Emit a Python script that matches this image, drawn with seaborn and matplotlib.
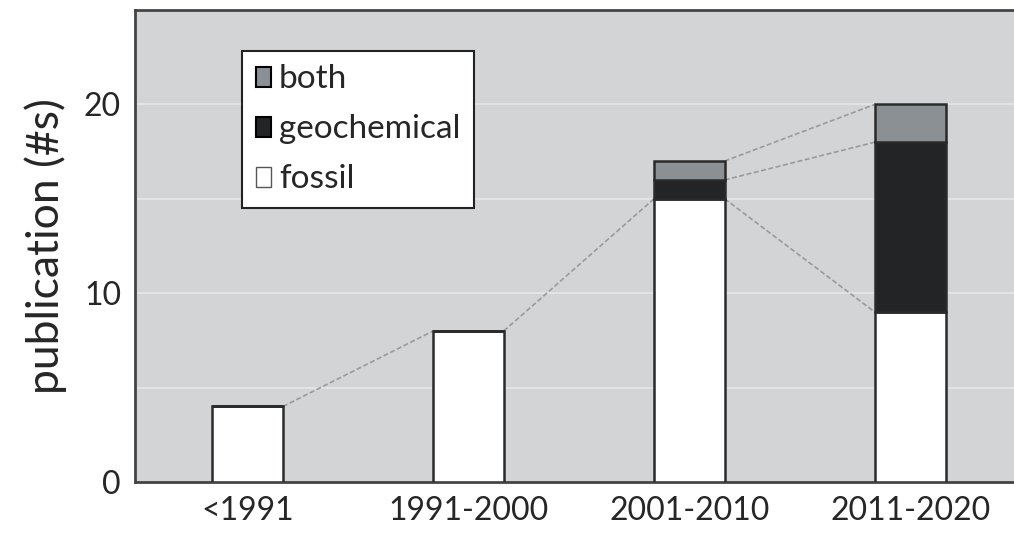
import numpy as np
import pandas as pd
import seaborn as sns
import matplotlib.pyplot as plt
from matplotlib.patches import Patch

# data
periods = ['<1991', '1991-2000', '2001-2010', '2011-2020']
fossil = [4, 8, 15, 9]
geochemical = [0, 0, 1, 9]
both = [0, 0, 1, 2]

sns.set_style('white')
plt.rcParams['font.family'] = ['Lato', 'DejaVu Sans']

df = pd.DataFrame({'period': periods, 'fossil': fossil,
                   'geochemical': geochemical, 'both': both})
df['geo_top'] = df['fossil'] + df['geochemical']
df['total'] = df['geo_top'] + df['both']

fig = plt.figure(figsize=(10.14, 5.35), dpi=100)
ax = fig.add_axes([135 / 1014, 53 / 535, 879 / 1014, 472 / 535])
ax.set_facecolor('#d3d4d6')

w = 0.32
edge = '#2a2a2a'
sns.barplot(x='period', y='fossil', data=df, color='white', width=w,
            edgecolor=edge, linewidth=1.8, ax=ax, zorder=3)
sns.barplot(x='period', y='geochemical', data=df, bottom=df['fossil'],
            color='#232426', width=w, edgecolor=edge, linewidth=1.8, ax=ax, zorder=3)
sns.barplot(x='period', y='both', data=df, bottom=df['geo_top'],
            color='#8a9096', width=w, edgecolor=edge, linewidth=1.8, ax=ax, zorder=3)

# dashed connectors between neighbouring bars
for i in range(len(periods) - 1):
    for col in ['fossil', 'geo_top', 'total']:
        if i < 2 and col != 'fossil':
            continue
        y0 = df[col].iloc[i]
        y1 = df[col].iloc[i + 1]
        ax.plot([i + w / 2, i + 1 - w / 2], [y0, y1], ls='--', color='#9a9a9a',
                lw=1.2, dashes=(3, 1.5), zorder=2)

ax.set_ylim(0, 25)
ax.set_xlim(-0.51, 3.47)
ax.set_yticks([0, 10, 20])
for g in [5, 10, 15, 20]:
    ax.axhline(g, color='#e6e7e8', lw=1.2, zorder=1)

ax.set_xlabel('')
ax.set_ylabel('publication (#s)', fontsize=32, labelpad=12)
ax.tick_params(axis='both', labelsize=23, length=0, pad=10)

for s in ['left', 'bottom', 'top']:
    ax.spines[s].set_color('#444444')
    ax.spines[s].set_linewidth(2)
ax.spines['right'].set_visible(False)

handles = [Patch(facecolor='#8a9096', edgecolor='black', lw=1.5, label='both'),
           Patch(facecolor='#232426', edgecolor='black', lw=1.5, label='geochemical'),
           Patch(facecolor='white', edgecolor='#555555', lw=1, label='fossil')]
leg = ax.legend(handles=handles, loc='upper left', bbox_to_anchor=(0.122, 0.913),
                fontsize=24, frameon=True, fancybox=False, framealpha=1,
                handlelength=0.45, handleheight=0.55, handletextpad=0.25,
                borderpad=0.4, labelspacing=0.6, borderaxespad=0)
leg.get_frame().set_facecolor('white')
leg.get_frame().set_edgecolor('#222222')
leg.get_frame().set_linewidth(1.5)

plt.savefig('out.png', dpi=100)
